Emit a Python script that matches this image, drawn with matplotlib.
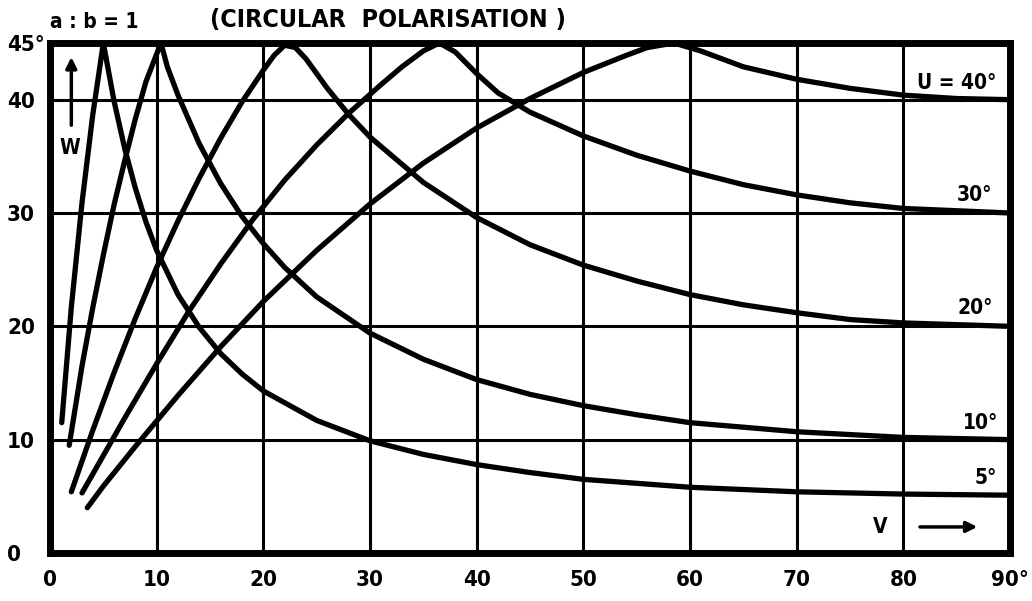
import matplotlib
matplotlib.use("Agg")
import matplotlib.pyplot as plt

# W against V for circular polarisation (a : b = 1), one curve per U
u5_v = [1.1, 2, 3, 4, 5, 6, 7, 8, 9, 10, 12, 14, 16, 18, 20, 25, 30, 35, 40, 45, 50, 60, 70, 80, 90]
u5_w = [11.5, 21.7, 30.9, 38.6, 45, 39.9, 35.7, 32.2, 29.2, 26.7, 22.8, 19.9, 17.6, 15.8, 14.3,
        11.7, 9.9, 8.7, 7.8, 7.1, 6.5, 5.8, 5.4, 5.2, 5.1]

u10_v = [1.8, 3, 4, 5, 6, 7, 8, 9, 10.4, 11, 12, 14, 16, 18, 20, 22, 25, 30, 35, 40, 45, 50, 55, 60,
         70, 80, 90]
u10_w = [9.5, 16.5, 21.6, 26.3, 30.7, 34.6, 38.3, 41.6, 45, 42.9, 40.4, 36.1, 32.6, 29.7, 27.3, 25.2,
         22.6, 19.4, 17.1, 15.3, 14.0, 13.0, 12.2, 11.5, 10.7, 10.2, 10.0]

u20_v = [2.0, 4, 6, 8, 10, 12, 14, 16, 18, 20, 21, 22, 23, 24, 26, 28, 30, 35, 40, 45, 50, 55, 60,
         65, 70, 75, 80, 90]
u20_w = [5.4, 10.8, 15.9, 20.7, 25.2, 29.3, 33.1, 36.6, 39.8, 42.6, 43.9, 44.8, 44.6, 43.6, 41.0,
         38.7, 36.7, 32.7, 29.6, 27.2, 25.4, 24.0, 22.8, 21.9, 21.2, 20.6, 20.3, 20.0]

u30_v = [3.0, 5, 7, 10, 13, 16, 19, 22, 25, 28, 31, 33, 35, 36.5, 38, 40, 42, 45, 50, 55, 60, 65,
         70, 75, 80, 90]
u30_w = [5.3, 8.6, 11.9, 16.7, 21.3, 25.5, 29.4, 32.9, 36.0, 38.8, 41.3, 42.9, 44.3, 45, 44.2,
         42.3, 40.6, 38.9, 36.8, 35.1, 33.7, 32.5, 31.6, 30.9, 30.4, 30.0]

u40_v = [3.5, 5, 8, 12, 16, 20, 25, 30, 35, 40, 45, 50, 54, 56, 58.5, 61, 63, 65, 70, 75, 80, 85, 90]
u40_w = [4.0, 5.9, 9.4, 13.9, 18.2, 22.2, 26.7, 30.8, 34.4, 37.5, 40.1, 42.4, 43.9, 44.6, 45, 44.3,
         43.6, 42.9, 41.8, 41.0, 40.4, 40.1, 40.0]

curve_labels = ["5°", "10°", "20°", "30°", "U = 40°"]
label_v = [87.7, 87.2, 86.7, 86.7, 85.0]
label_w = [6.6, 11.5, 21.6, 31.6, 41.5]

x_ticks = [0, 10, 20, 30, 40, 50, 60, 70, 80, 90]
x_ticklabels = ["0", "10", "20", "30", "40", "50", "60", "70", "80", "90°"]
y_ticks = [0, 10, 20, 30, 40, 45]
y_ticklabels = ["0", "10", "20", "30", "40", "45°"]

plt.rcParams['font.family'] = ['DejaVu Sans']
plt.rcParams['font.weight'] = 'bold'
plt.rcParams['font.stretch'] = 'condensed'

fig = plt.figure(figsize=(10.32, 6.01), dpi=100)
ax = fig.add_axes([50 / 1032, 48 / 601, 960 / 1032, 510 / 601])

curves = [(u5_v, u5_w), (u10_v, u10_w), (u20_v, u20_w), (u30_v, u30_w), (u40_v, u40_w)]
for v, w in curves:
    ax.plot(v, w, color='black', linewidth=3.8, solid_capstyle='round', solid_joinstyle='round')

for txt, v, w in zip(curve_labels, label_v, label_w):
    ax.text(v, w, txt, fontsize=15, fontweight='bold', ha='center', va='center')

ax.set_xlim(0, 90)
ax.set_ylim(0, 45)
ax.set_xticks(x_ticks)
ax.set_xticklabels(x_ticklabels, fontsize=16, fontweight='bold')
ax.set_yticks(y_ticks)
ax.set_yticklabels(y_ticklabels, fontsize=16, fontweight='bold')
for lab in ax.get_yticklabels():
    lab.set_horizontalalignment('left')
ax.tick_params(axis='x', length=0, pad=12)
ax.tick_params(axis='y', length=0, pad=31)
ax.grid(True, color='black', linewidth=2.2)
ax.set_axisbelow(True)
for sp in ax.spines.values():
    sp.set_linewidth(5)
    sp.set_zorder(5)

# axis names with arrows
ax.text(1.9, 35.7, "W", fontsize=15, fontweight='bold', ha='center', va='center')
ax.annotate("", xy=(2.0, 44.0), xytext=(2.0, 37.5),
            arrowprops=dict(arrowstyle='-|>', color='black', lw=2.5, mutation_scale=16))
ax.text(77.8, 2.3, "V", fontsize=15, fontweight='bold', ha='center', va='center')
ax.annotate("", xy=(87.2, 2.3), xytext=(81.3, 2.3),
            arrowprops=dict(arrowstyle='-|>', color='black', lw=2.5, mutation_scale=16))

fig.text(50 / 1032, 1 - 22 / 601, "a : b = 1", fontsize=15, fontweight='bold', va='center')
fig.text(210 / 1032, 1 - 20 / 601, "(CIRCULAR  POLARISATION )", fontsize=18, fontweight='bold',
         va='center')

fig.savefig("out.png", dpi=100)
